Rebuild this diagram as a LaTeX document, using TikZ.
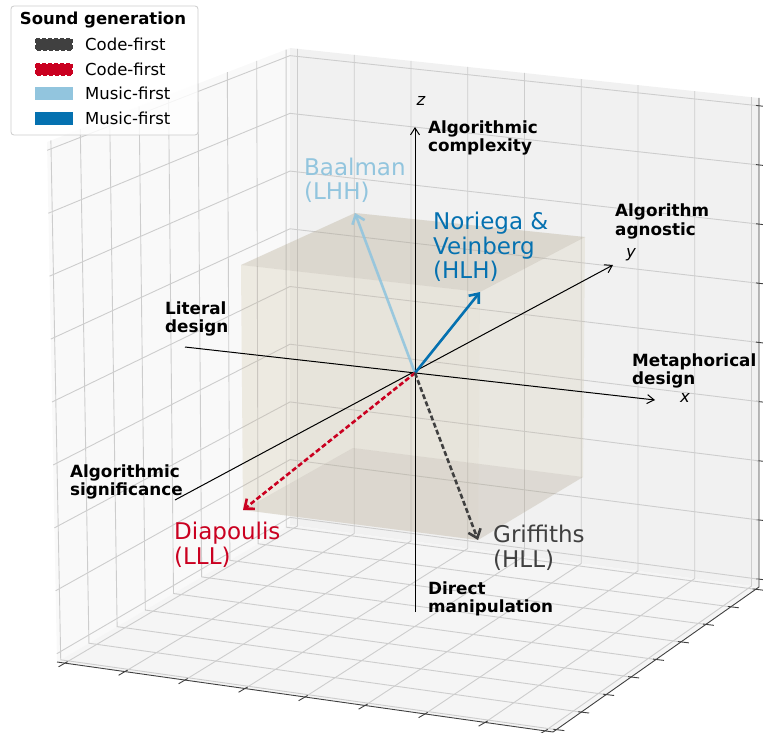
\documentclass[tikz,border=0pt]{standalone}
\usepackage{fontspec}
\setmainfont{DejaVu Sans}
\usetikzlibrary{calc, arrows.meta}
\definecolor{codegray}{HTML}{404040}
\definecolor{codered}{HTML}{CA0020}
\definecolor{musiclight}{HTML}{92C5DE}
\definecolor{musicblue}{HTML}{0571B0}
\definecolor{paneleft}{RGB}{249,249,249}
\definecolor{paneback}{RGB}{241,241,241}
\definecolor{panefloor}{RGB}{245,245,245}
\definecolor{gridgray}{RGB}{205,205,205}
\definecolor{boxtan}{RGB}{200,185,150}
\definecolor{boxdark}{RGB}{170,160,140}

\begin{document}
\begin{tikzpicture}[x=1pt, y=-1pt,
  gridline/.style={gridgray, line width=0.9pt},
  edgeline/.style={black!75, line width=0.9pt},
  axisline/.style={black, line width=1pt, -{Straight Barb[length=7pt,width=9pt]}},
  vec/.style={line width=2.6pt, -{Straight Barb[length=8pt,width=13pt]}},
  dotvec/.style={vec, dash pattern=on 5pt off 2.6pt},
  pole/.style={font=\fontsize{16.8}{18.6}\selectfont\bfseries, align=left, anchor=west, inner sep=0pt},
  study/.style={font=\fontsize{23}{24.5}\selectfont, align=left, anchor=west, inner sep=0pt},
  axname/.style={font=\fontsize{16.5}{19}\selectfont\itshape, inner sep=0pt},
  legtext/.style={font=\fontsize{16.5}{19}\selectfont, anchor=west, inner sep=0pt},
  facelight/.style={fill=boxtan, fill opacity=0.12},
  facedark/.style={fill=boxdark, fill opacity=0.25}]
  \useasboundingbox (0,0) rectangle (763,733);
  \coordinate (topL) at (47,142);
  \coordinate (topM) at (290,48);
  \coordinate (topR) at (759,98);
  \coordinate (botL) at (57,662);
  \coordinate (botM) at (290,525);
  \coordinate (botR) at (759,587);
  \coordinate (botF) at (553,732);
  \fill [paneleft] (topL) -- (topM) -- (botM) -- (botL) -- cycle;
  \fill [paneback] (topM) -- (topR) -- (botR) -- (botM) -- cycle;
  \fill [panefloor] (botL) -- (botM) -- (botR) -- (botF) -- cycle;
  \foreach \i in {0,...,8} {
    \pgfmathsetmacro\gt{0.016+0.121*\i}
    \draw [gridline] ($(topL)!\gt!(botL)$) -- ($(topM)!\gt!(botM)$) -- ($(topR)!\gt!(botR)$);
    \draw [gridline] ($(topL)!\gt!(topM)$) -- ($(botL)!\gt!(botM)$) -- ($(botF)!\gt!(botR)$);
    \draw [gridline] ($(topM)!\gt!(topR)$) -- ($(botM)!\gt!(botR)$) -- ($(botL)!\gt!(botF)$);
    \draw [edgeline] ($(botL)!\gt!(botF)+(2.6,-1.5)$) -- ++(-9,5.2);
    \draw [edgeline] ($(botF)!\gt!(botR)+(-3,-0.4)$) -- ++(11,1.3);
    \draw [edgeline] ($(botR)!\gt!(topR)+(-3,-0.4)$) -- ++(11,1.3);
  }
  \draw [edgeline] (botL) -- (botF) -- (botR) -- (topR);

  \coordinate (LLH) at (241,265);
  \coordinate (HLH) at (480,292);
  \coordinate (HHH) at (585,237);
  \coordinate (LHH) at (355,213);
  \coordinate (LLL) at (243,510);
  \coordinate (HLL) at (478,540);
  \coordinate (HHL) at (583,477);
  \coordinate (LHL) at (353,448);
  \fill [facedark] (LLL) -- (HLL) -- (HHL) -- (LHL) -- cycle;
  \fill [facelight] (LHH) -- (HHH) -- (HHL) -- (LHL) -- cycle;
  \fill [facelight] (LLH) -- (LHH) -- (LHL) -- (LLL) -- cycle;
  \fill [facelight] (LLH) -- (HLH) -- (HLL) -- (LLL) -- cycle;
  \fill [facelight, fill opacity=0.06] (HLH) -- (HHH) -- (HHL) -- (HLL) -- cycle;
  \fill [facedark] (LLH) -- (HLH) -- (HHH) -- (LHH) -- cycle;

  \coordinate (O) at (415,373);
  \coordinate (xneg) at (185,347);
  \coordinate (xpos) at (655,400);
  \coordinate (yneg) at (175,500);
  \coordinate (ypos) at (613,265);
  \coordinate (zneg) at (415,612);
  \coordinate (zpos) at (415,127);
  \draw [axisline] (xneg) -- (xpos);
  \draw [axisline] (yneg) -- (ypos);
  \draw [axisline] (zneg) -- (zpos);
  \node [axname] (xlabel) at (685,398) {x};
  \node [axname] (ylabel) at (631,255) {y};
  \node [axname] (zlabel) at (421,101) {z};
  \node [pole] (complexity) at (428,138) {Algorithmic\\complexity};
  \node [pole] (direct) at (428,599) {Direct\\manipulation};
  \node [pole] (agnostic) at (615,221.5) {Algorithm\\agnostic};
  \node [pole] (significance) at (70,482) {Algorithmic\\significance};
  \node [pole] (metaphorical) at (632,371) {Metaphorical\\design};
  \node [pole] (literal) at (165,319) {Literal\\design};

  \draw [vec, musiclight, opacity=0.9] (O) -- (LHH);
  \draw [vec, musicblue] (O) -- (HLH);
  \draw [dotvec, codered] (O) -- (LLL);
  \draw [dotvec, codegray] (O) -- (HLL);
  \node [study, musiclight] (baalman) at (304,180.5) {Baalman\\(LHH)};
  \node [study, musicblue] (noriega) at (433,247) {Noriega \&\\Veinberg\\(HLH)};
  \node [study, codered] (diapoulis) at (174,545) {Diapoulis\\(LLL)};
  \node [study, codegray] (griffiths) at (493,548) {Griffiths\\(HLL)};

  \draw [gray!40, line width=0.8pt, fill=white, fill opacity=0.8, rounded corners=3pt] (11,6) rectangle (198,135);
  \node [font=\fontsize{16.5}{19}\selectfont\bfseries, inner sep=0pt] (legtitle) at (103,20) {Sound generation};
  \fill [codegray] (36,39) rectangle (72,50);
  \draw [codegray, line width=2.4pt, dash pattern=on 4pt off 2pt] (36,39) rectangle (72,50);
  \node [legtext] (legcodegray) at (85,44) {Code-first};
  \fill [codered] (36,64) rectangle (72,75);
  \draw [codered, line width=2.4pt, dash pattern=on 4pt off 2pt] (36,64) rectangle (72,75);
  \node [legtext] (legcodered) at (85,69) {Code-first};
  \fill [musiclight] (35,87) rectangle (73,100);
  \node [legtext] (legmusiclight) at (85,93) {Music-first};
  \fill [musicblue] (35,112) rectangle (73,125);
  \node [legtext] (legmusicblue) at (85,118) {Music-first};
\end{tikzpicture}
\end{document}
